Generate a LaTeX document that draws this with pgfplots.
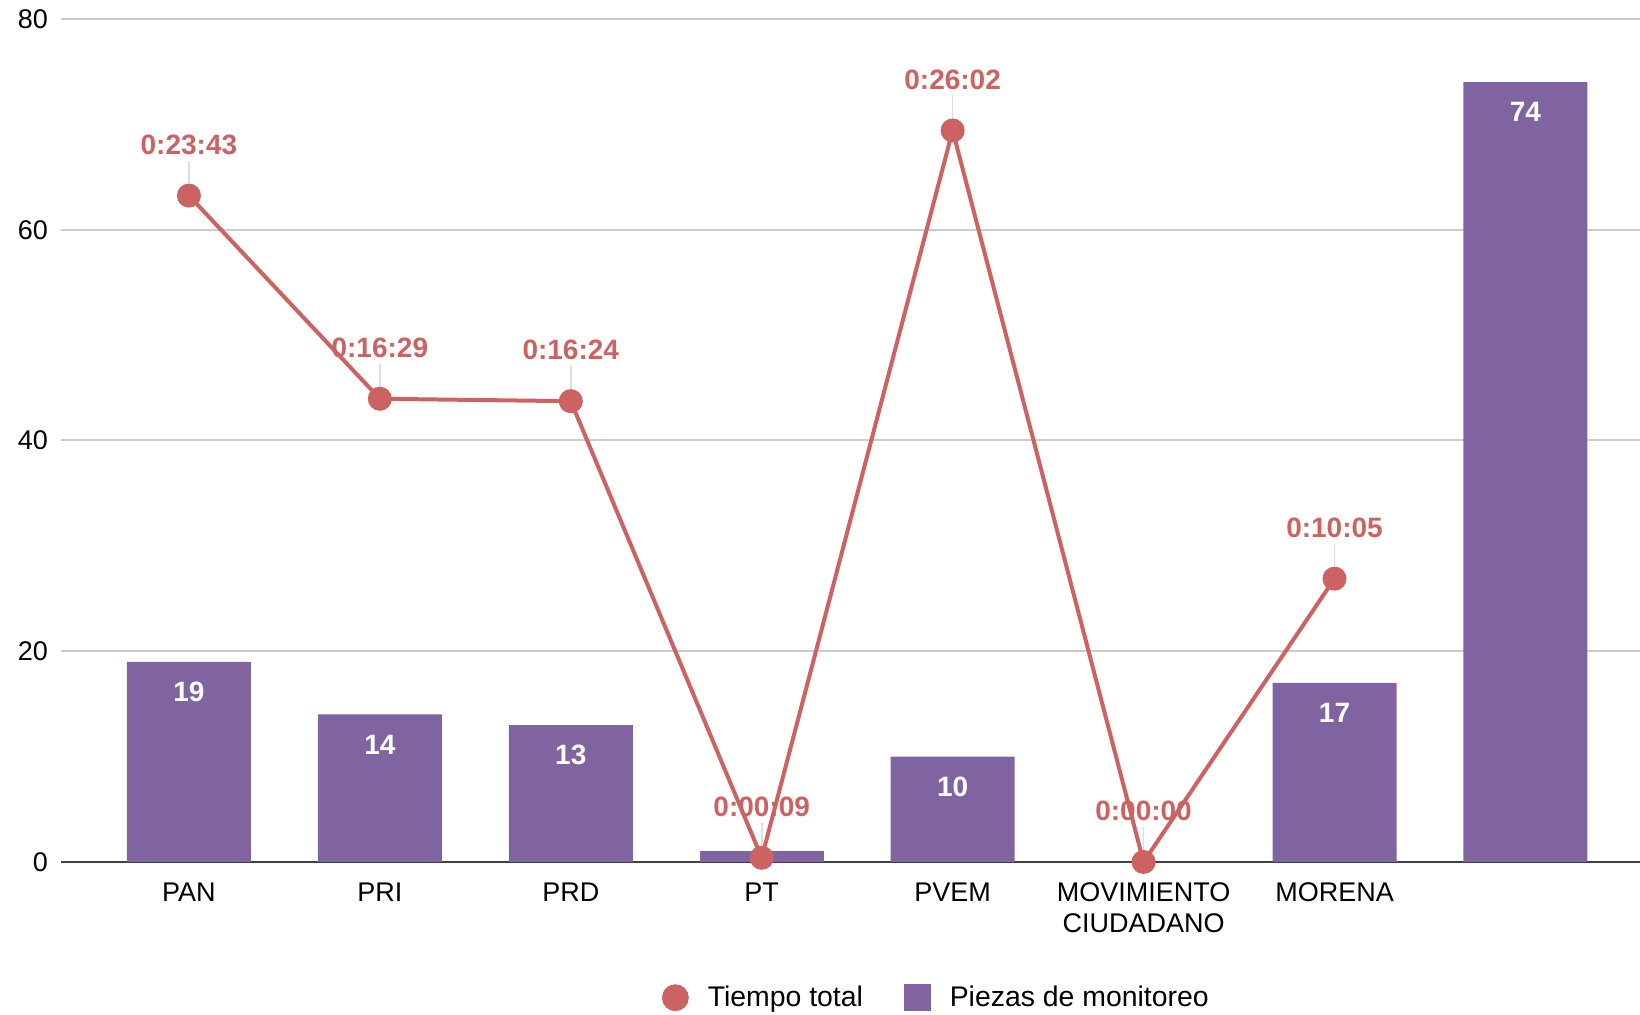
\documentclass[border=0pt]{standalone}
\usepackage{pgfplots}
\pgfplotsset{compat=1.18}
\usepackage{fontspec}
\setmainfont{Liberation Sans}
\definecolor{barpurple}{HTML}{8064A2}
\definecolor{linered}{HTML}{CC6262}
\definecolor{gridgray}{HTML}{CCCCCC}
\definecolor{leadgray}{HTML}{DDDDDD}

\begin{document}
\begin{tikzpicture}
\begin{axis}[
  at={(0,0)}, anchor=south west,
  scale only axis, width=789.5pt, height=421.5pt,
  xmin=-0.67, xmax=7.6, ymin=0, ymax=80,
  xtick={0,...,7},
  xticklabels={PAN,PRI,PRD,PT,PVEM,{MOVIMIENTO\\CIUDADANO},MORENA,{}},
  ytick={0,20,40,60,80},
  ymajorgrids, grid style={gridgray, line width=1pt},
  axis x line=bottom, axis y line=left,
  x axis line style={-, draw=black!75, line width=1pt},
  y axis line style={draw=none},
  major tick length=0pt,
  tick label style={font=\fontsize{13.5}{15.5}\selectfont},
  xticklabel style={align=center, anchor=north, yshift=-7pt},
  yticklabel style={xshift=-3pt},
  /pgf/number format/assume math mode=true,
  legend style={at={(0.555,-0.161)}, anchor=center, draw=none,
    font=\fontsize{14.2}{16}\selectfont,
    /tikz/every odd column/.append style={column sep=7.5pt},
    /tikz/every even column/.append style={column sep=18.5pt}},
  legend columns=2, legend cell align=left,
  clip=false,
]
% Piezas de monitoreo
\addplot[ybar, bar shift=0pt, bar width=62pt, fill=barpurple, draw=none, forget plot,
  nodes near coords,
  every node near coord/.append style={white, anchor=center, yshift=-15pt,
    font=\bfseries\fontsize{14}{14}\selectfont}]
  table {
x y
0 19
1 14
2 13
4 10
6 17
7 74
};
\addplot[ybar, bar shift=0pt, bar width=62pt, fill=barpurple, draw=none, forget plot]
  table {
x y
3 1
};

\addlegendimage{legend image code/.code={\fill[linered] (6.5pt,0pt) circle (6.5pt);}}
\addlegendentry{Tiempo total}
\addlegendimage{legend image code/.code={\fill[barpurple] (0pt,-6.5pt) rectangle (13pt,6.5pt);}}
\addlegendentry{Piezas de monitoreo}

% Tiempo total
\addplot[linered, line width=2pt, mark=*, mark size=5pt,
  mark options={fill=linered, draw=none}, forget plot,
  point meta=explicit symbolic, nodes near coords={%
    \begin{tabular}{@{}c@{}}\pgfplotspointmeta\\[-1pt]{\color{leadgray}\rule{0.8pt}{11.5pt}}\end{tabular}},
  every node near coord/.append style={linered, anchor=south, inner sep=0pt, yshift=0.8pt,
    font=\bfseries\fontsize{14}{14}\selectfont}]
  table[meta=label] {
x y label
0 63.24 0:23:43
1 43.96 0:16:29
2 43.73 0:16:24
3 0.40 0:00:09
4 69.42 0:26:02
5 0.00 0:00:00
6 26.89 0:10:05
};
\end{axis}
\pgfresetboundingbox
\useasboundingbox (-30.5pt,-76.5pt) rectangle (789.5pt,431pt);
\end{tikzpicture}
\end{document}
